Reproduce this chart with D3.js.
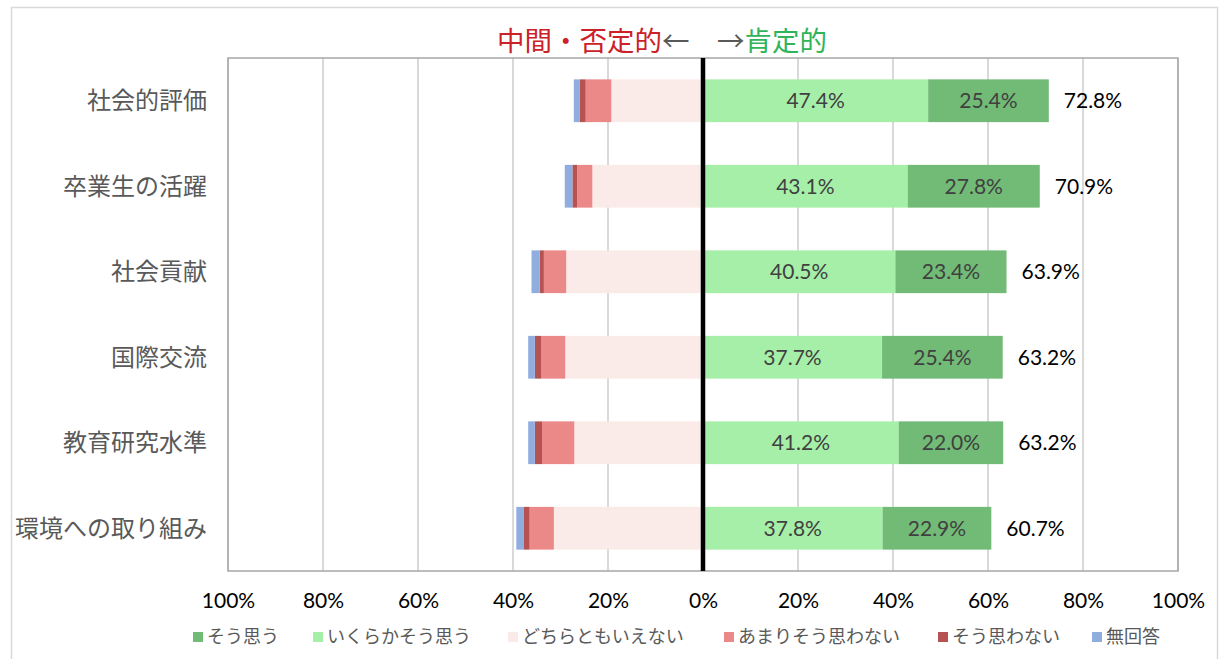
<!DOCTYPE html>
<html>
<head>
<meta charset="utf-8">
<script src="https://cdn.jsdelivr.net/npm/d3@7"></script>
<style>
    body { margin: 0; background: #fff; }
    svg { display: block; }
    .num { font-family: Lato, "Noto Sans", sans-serif; }
    .jp { font-family: "Noto Sans CJK JP", sans-serif; }
</style>
</head>
<body>
<svg id="chart" width="1221" height="659"></svg>
<script>
// categories, top to bottom
var categories = ["社会的評価", "卒業生の活躍", "社会貢献", "国際交流", "教育研究水準", "環境への取り組み"];

// positive side (%)
var soOmou = [25.4, 27.8, 23.4, 25.4, 22.0, 22.9];
var ikuraka = [47.4, 43.1, 40.5, 37.7, 41.2, 37.8];
var totals = ["72.8%", "70.9%", "63.9%", "63.2%", "63.2%", "60.7%"];

// negative side (%), drawn from 0 to the left
var dochira = [19.3, 23.3, 28.8, 29.0, 27.1, 31.4];
var amari = [5.4, 3.2, 4.7, 5.1, 6.8, 5.1];
var soOmowanai = [1.3, 1.0, 0.9, 1.3, 1.5, 1.3];
var mukaito = [1.2, 1.6, 1.7, 1.4, 1.4, 1.5];

var tickValues = [-100, -80, -60, -40, -20, 0, 20, 40, 60, 80, 100];

var legendNames = ["そう思う", "いくらかそう思う", "どちらともいえない", "あまりそう思わない", "そう思わない", "無回答"];
var legendColors = ["#72bb77", "#a6efa8", "#fbebe8", "#eb8888", "#b65252", "#8faddf"];

var svg = d3.select("#chart");
var plotL = 228, plotR = 1178, plotT = 58, plotB = 571;

var x = d3.scaleLinear().domain([-100, 100]).range([plotL, plotR]);
var y = d3.scaleBand().domain(categories).range([plotT, plotB]).paddingInner(0.5).paddingOuter(0.25);

// outer frame
svg.append("rect")
    .attr("x", 11.5).attr("y", 7.5)
    .attr("width", 1206).attr("height", 700)
    .attr("fill", "#fff").attr("stroke", "#d9d9d9").attr("stroke-width", 1.5);

// grid lines
svg.append("g").selectAll("line")
    .data(tickValues)
    .join("line")
    .attr("x1", function (d) { return Math.round(x(d)); })
    .attr("x2", function (d) { return Math.round(x(d)); })
    .attr("y1", plotT).attr("y2", plotB)
    .attr("stroke", "#d9d9d9").attr("stroke-width", 2);

// build stacked segments
var segs = [];
categories.forEach(function (c, i) {
    var neg = [[dochira[i], 2], [amari[i], 3], [soOmowanai[i], 4], [mukaito[i], 5]];
    var acc = 0;
    neg.forEach(function (n) {
        segs.push({cat: c, x0: -(acc + n[0]), x1: -acc, color: legendColors[n[1]], label: null});
        acc += n[0];
    });
    segs.push({cat: c, x0: 0, x1: ikuraka[i], color: legendColors[1], label: ikuraka[i].toFixed(1) + "%"});
    segs.push({cat: c, x0: ikuraka[i], x1: ikuraka[i] + soOmou[i], color: legendColors[0], label: soOmou[i].toFixed(1) + "%"});
});

svg.append("g").selectAll("rect")
    .data(segs)
    .join("rect")
    .attr("x", function (d) { return x(d.x0); })
    .attr("width", function (d) { return x(d.x1) - x(d.x0); })
    .attr("y", function (d) { return y(d.cat); })
    .attr("height", y.bandwidth())
    .attr("fill", function (d) { return d.color; });

// labels inside bars
svg.append("g").selectAll("text")
    .data(segs.filter(function (d) { return d.label; }))
    .join("text")
    .attr("class", "num")
    .attr("x", function (d) { return (x(d.x0) + x(d.x1)) / 2; })
    .attr("y", function (d) { return y(d.cat) + y.bandwidth() / 2; })
    .attr("dy", "0.36em")
    .attr("text-anchor", "middle")
    .attr("font-size", 21)
    .attr("fill", "#404040")
    .text(function (d) { return d.label; });

// total labels
svg.append("g").selectAll("text")
    .data(categories)
    .join("text")
    .attr("class", "num")
    .attr("x", function (d, i) { return x(ikuraka[i] + soOmou[i]) + 15; })
    .attr("y", function (d) { return y(d) + y.bandwidth() / 2; })
    .attr("dy", "0.36em")
    .attr("font-size", 21)
    .attr("fill", "#000")
    .text(function (d, i) { return totals[i]; });

// plot frame
svg.append("rect")
    .attr("x", plotL).attr("y", plotT)
    .attr("width", plotR - plotL).attr("height", plotB - plotT)
    .attr("fill", "none").attr("stroke", "#a6a6a6").attr("stroke-width", 1.5);

// zero line
svg.append("line")
    .attr("x1", x(0)).attr("x2", x(0))
    .attr("y1", plotT).attr("y2", plotB)
    .attr("stroke", "#000").attr("stroke-width", 4.5);

// x axis
var xAxis = svg.append("g")
    .attr("transform", "translate(0," + plotB + ")")
    .call(d3.axisBottom(x).tickValues(tickValues).tickSize(0).tickPadding(22)
        .tickFormat(function (d) { return Math.abs(d) + "%"; }));
xAxis.select(".domain").remove();
xAxis.selectAll("text")
    .attr("class", "num")
    .attr("font-size", 21)
    .attr("fill", "#000");

// category labels
svg.append("g").selectAll("text")
    .data(categories)
    .join("text")
    .attr("class", "jp")
    .attr("x", 207)
    .attr("y", function (d) { return y(d) + y.bandwidth() / 2; })
    .attr("dy", "0.35em")
    .attr("text-anchor", "end")
    .attr("font-size", 24)
    .attr("fill", "#595959")
    .text(function (d) { return d; });

// title
var title = svg.append("text")
    .attr("class", "jp")
    .attr("x", 497)
    .attr("y", 41)
    .attr("dy", "0.35em")
    .attr("font-size", 27.5);
title.append("tspan").attr("fill", "#cc2127").text("中間・否定的");
title.append("tspan").attr("fill", "#595959").text("←　→");
title.append("tspan").attr("fill", "#2fb45a").text("肯定的");

// legend
var legendX = [193, 313, 508, 724, 938, 1092];
var legend = svg.append("g").selectAll("g")
    .data(legendNames)
    .join("g")
    .attr("transform", function (d, i) { return "translate(" + legendX[i] + ",637)"; });
legend.append("rect")
    .attr("x", 0).attr("y", -5)
    .attr("width", 10).attr("height", 10)
    .attr("fill", function (d, i) { return legendColors[i]; });
legend.append("text")
    .attr("class", "jp")
    .attr("x", 14)
    .attr("dy", "0.35em")
    .attr("font-size", 18)
    .attr("fill", "#595959")
    .text(function (d) { return d; });
</script>
</body>
</html>
